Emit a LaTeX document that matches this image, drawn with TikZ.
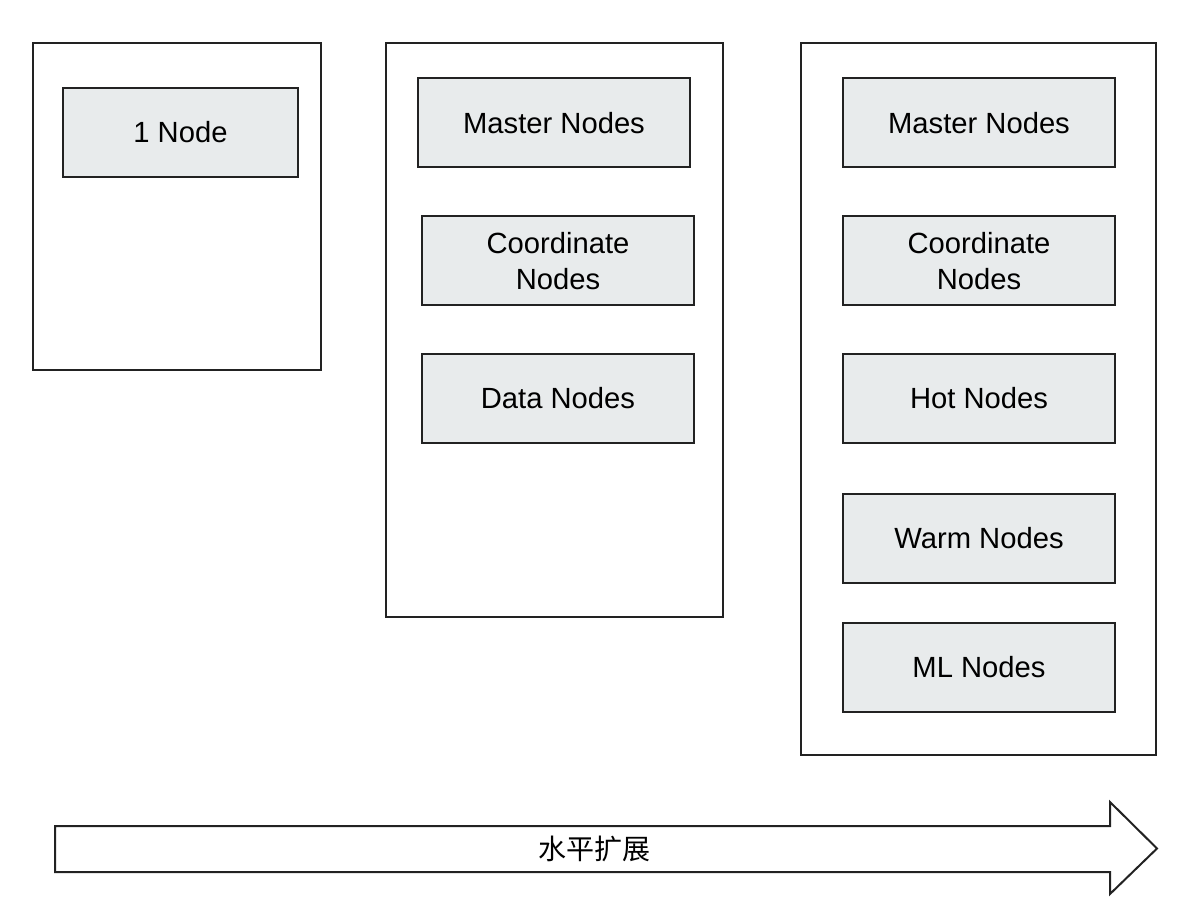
\documentclass[tikz,border=0pt]{standalone}
\usepackage{fontspec}
\setmainfont{Liberation Sans}
\newfontfamily\cjk{Noto Sans CJK SC}
\usetikzlibrary{positioning}
\definecolor{nodegray}{HTML}{E8EBEC}
\definecolor{linegray}{HTML}{222222}
\tikzset{
  rolebox/.style={draw=linegray, fill=nodegray, line width=1pt, minimum width=136pt,
    minimum height=44.5pt, align=center, font=\fontsize{14.6}{18}\selectfont},
  groupbox/.style={draw=linegray, line width=1pt}
}

\begin{document}
\begin{tikzpicture}[x=0.5pt,y=-0.5pt]
    \useasboundingbox (0,0) rectangle (1178,908);
    % Draw the clusters
    \draw[groupbox] (33,43) rectangle (321,370);
    \draw[groupbox] (386,43) rectangle (723,617);
    \draw[groupbox] (801,43) rectangle (1156,755);
    % single node
    \node[rolebox, minimum width=117.5pt] (one) at (180.5,132.5) {1 Node};
    % small cluster
    \node[rolebox] (mastera) at (554,123) {Master Nodes};
    \node[rolebox] (coorda) at (558,261) {Coordinate\\Nodes};
    \node[rolebox] (dataa) at (558,398.5) {Data Nodes};
    % large cluster
    \node[rolebox] (masterb) at (979,123) {Master Nodes};
    \node[rolebox] (coordb) at (979,261) {Coordinate\\Nodes};
    \node[rolebox] (hotb) at (979,398.5) {Hot Nodes};
    \node[rolebox] (warmb) at (979,538.5) {Warm Nodes};
    \node[rolebox] (mlb) at (979,667.5) {ML Nodes};
    %arrow
    \draw[line width=1pt, draw=linegray, line join=miter]
      (55,826) -- (1110,826) -- (1110,802) -- (1157,848.5) -- (1110,894)
      -- (1110,872) -- (55,872) -- cycle;
    \node[font=\cjk\fontsize{14}{16}\selectfont] (scale) at (594,849) {水平扩展};
\end{tikzpicture}
\end{document}
